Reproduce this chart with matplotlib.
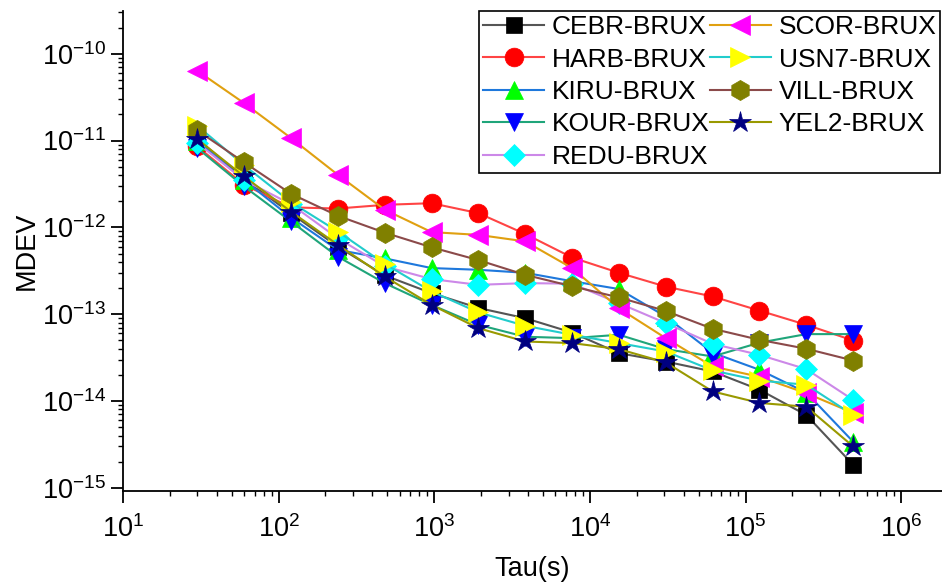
import math
import matplotlib
matplotlib.use("Agg")
import matplotlib.pyplot as plt
from matplotlib.ticker import FixedLocator, NullFormatter, FuncFormatter

plt.rcParams['font.family'] = ['Liberation Sans', 'DejaVu Sans']
plt.rcParams['mathtext.fontset'] = 'custom'
plt.rcParams['mathtext.rm'] = 'Liberation Sans'
plt.rcParams['mathtext.it'] = 'Liberation Sans:italic'
plt.rcParams['mathtext.bf'] = 'Liberation Sans:bold'

tau = [30, 60, 120, 240, 480, 960, 1920, 3840, 7680, 15360, 30720, 61440, 122880, 245760, 491520]

labels = ["CEBR-BRUX", "HARB-BRUX", "KIRU-BRUX", "KOUR-BRUX", "REDU-BRUX",
          "SCOR-BRUX", "USN7-BRUX", "VILL-BRUX", "YEL2-BRUX"]

cebr = [1.05e-11, 3.6e-12, 1.45e-12, 6.0e-13, 2.8e-13, 1.75e-13, 1.18e-13, 9.0e-14, 6.15e-14, 3.56e-14, 2.85e-14, 2.19e-14, 1.35e-14, 6.9e-15, 1.84e-15]
harb = [8.55e-12, 3.1e-12, 1.7e-12, 1.65e-12, 1.82e-12, 1.9e-12, 1.46e-12, 8.4e-13, 4.5e-13, 3.0e-13, 2.08e-13, 1.6e-13, 1.1e-13, 7.55e-14, 4.98e-14]
kiru = [1.0e-11, 3.5e-12, 1.3e-12, 5.5e-13, 4.4e-13, 3.4e-13, 3.25e-13, 3.0e-13, 2.4e-13, 1.95e-13, 9.4e-14, 3.6e-14, 2.29e-14, 1.25e-14, 3.4e-15]
kour = [8.2e-12, 2.96e-12, 1.17e-12, 4.6e-13, 2.28e-13, 1.28e-13, 7.55e-14, 5.5e-14, 5.3e-14, 5.8e-14, 3.96e-14, 3.26e-14, 4.7e-14, 5.9e-14, 5.9e-14]
redu = [9.4e-12, 3.5e-12, 1.85e-12, 7.5e-13, 3.55e-13, 2.54e-13, 2.18e-13, 2.28e-13, 2.25e-13, 1.34e-13, 7.9e-14, 4.56e-14, 3.4e-14, 2.33e-14, 1.03e-14]
scor = [6.37e-11, 2.7e-11, 1.07e-11, 4.04e-12, 1.6e-12, 8.83e-13, 8.2e-13, 6.9e-13, 3.4e-13, 1.17e-13, 5.3e-14, 2.5e-14, 1.9e-14, 1.23e-14, 7.3e-15]
usn7 = [1.48e-11, 5.2e-12, 1.95e-12, 8.97e-13, 3.8e-13, 1.83e-13, 1.05e-13, 7.35e-14, 5.8e-14, 4.65e-14, 3.72e-14, 2.25e-14, 1.72e-14, 1.54e-14, 6.9e-15]
vill = [1.31e-11, 5.6e-12, 2.44e-12, 1.36e-12, 8.7e-13, 5.9e-13, 4.2e-13, 2.84e-13, 2.1e-13, 1.56e-13, 1.09e-13, 6.8e-14, 5.07e-14, 4.0e-14, 2.93e-14]
yel2 = [1.04e-11, 3.86e-12, 1.52e-12, 6.3e-13, 2.72e-13, 1.28e-13, 6.9e-14, 4.85e-14, 4.65e-14, 3.96e-14, 2.78e-14, 1.29e-14, 9.5e-15, 8.6e-15, 3.0e-15]

x_exps = [1, 2, 3, 4, 5, 6]
y_exps = [-15, -14, -13, -12, -11, -10]

series = [cebr, harb, kiru, kour, redu, scor, usn7, vill, yel2]
line_colors = ['#555555', '#FF4444', '#1E78DC', '#1FA57A', '#CC88E8',
               '#E0A010', '#22CCCC', '#8B4A4A', '#999900']
marker_colors = ['#000000', '#FF0000', '#00FF00', '#0000FF', '#00FFFF',
                 '#FF00FF', '#FFFF00', '#808000', '#000080']
markers = ['s', 'o', '^', 'v', 'D', '<', '>', 'h', '*']
msizes = [11.5, 13.5, 13.5, 13.5, 11.5, 14.5, 14.5, 14.5, 16]

fig = plt.figure(figsize=(9.42, 5.85), dpi=100)
ax = fig.add_axes([0.1306, 0.1607, 0.8694, 0.8203])

for vals, lab, lc, mc, mk, ms in zip(series, labels, line_colors, marker_colors, markers, msizes):
    ax.plot(tau, vals, color=lc, lw=1.5, marker=mk, markersize=ms,
            markerfacecolor=mc, markeredgecolor=mc, markeredgewidth=0.5, label=lab)

ax.set_xscale('log')
ax.set_yscale('log')
ax.set_xlim(10, 1.83e6)
ax.set_ylim(9.2e-16, 3.1e-10)

ax.spines['top'].set_visible(False)
ax.spines['right'].set_visible(False)
for s in ['left', 'bottom']:
    ax.spines[s].set_linewidth(1.3)

x_major = [10.0 ** e for e in x_exps]
x_minor = [m * 10.0 ** e for e in x_exps[:-1] for m in range(2, 10)]
y_major = [10.0 ** e for e in y_exps]
y_minor = [m * 10.0 ** e for e in y_exps[:-1] for m in range(2, 10)] + [2e-10, 3e-10]

ax.xaxis.set_major_locator(FixedLocator(x_major))
ax.xaxis.set_minor_locator(FixedLocator(x_minor))
ax.yaxis.set_major_locator(FixedLocator(y_major))
ax.yaxis.set_minor_locator(FixedLocator(y_minor))
fmt = FuncFormatter(lambda v, p: r'$\mathregular{10^{%d}}$' % round(math.log10(v)))
ax.xaxis.set_major_formatter(fmt)
ax.yaxis.set_major_formatter(fmt)
ax.xaxis.set_minor_formatter(NullFormatter())
ax.yaxis.set_minor_formatter(NullFormatter())

ax.tick_params(which='major', direction='out', length=8.5, width=1.3, labelsize=19.5)
ax.tick_params(axis='x', which='major', pad=9)
ax.tick_params(axis='y', which='major', pad=4)
ax.tick_params(which='minor', direction='out', length=3.8, width=1.0)

ax.set_xlabel('Tau(s)', fontsize=19.5, labelpad=9)
ax.set_ylabel('MDEV', fontsize=19.5, labelpad=1)

leg = ax.legend(ncol=2, loc='upper right', bbox_to_anchor=(0.998, 1.0), fontsize=19,
                frameon=True, fancybox=False, edgecolor='black', framealpha=1,
                handlelength=2.3, handletextpad=0.3, columnspacing=0.0,
                labelspacing=0.32, borderpad=0.15, borderaxespad=0.0)
leg.get_frame().set_linewidth(1.2)

fig.savefig('out.png', dpi=100)
